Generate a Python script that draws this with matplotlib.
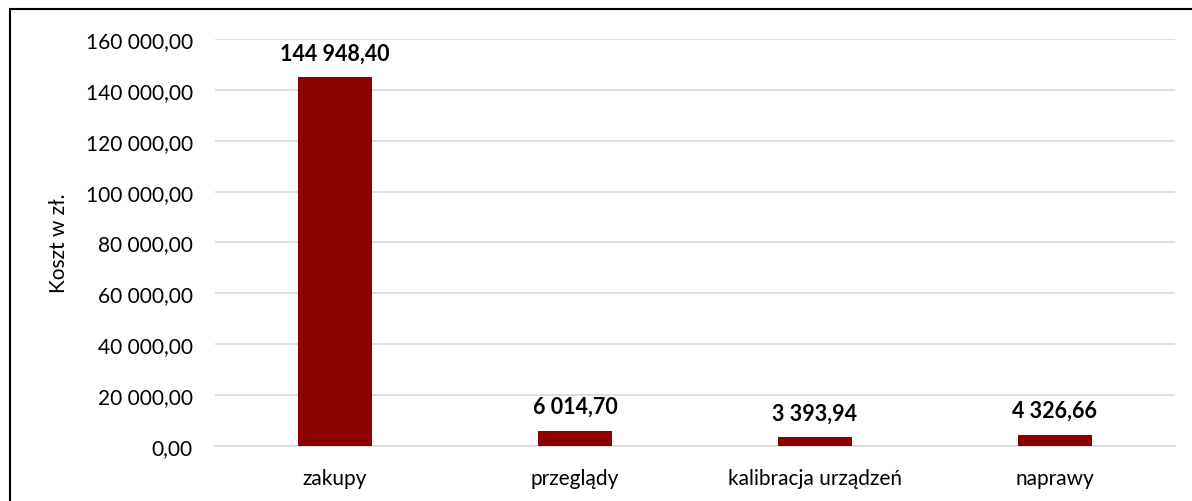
import matplotlib.pyplot as plt
from matplotlib.patches import Rectangle
from matplotlib.ticker import FuncFormatter

# Data
categories = ['zakupy', 'przeglądy', 'kalibracja urządzeń', 'naprawy']
costs = [144948.40, 6014.70, 3393.94, 4326.66]


def pl_fmt(v, pos=None):
    s = f"{v:,.2f}"
    return s.replace(',', ' ').replace('.', ',')


plt.rcParams['font.family'] = ['Lato', 'DejaVu Sans']

fig = plt.figure(figsize=(11.92, 5.02), dpi=100)
ax = fig.add_axes([0.1804, 0.1096, 0.8053, 0.8107])

x = range(len(categories))
ax.bar(x, costs, width=0.31, color='#8B0000', zorder=3)

for i, v in zip(x, costs):
    ax.annotate(pl_fmt(v), (i, v), xytext=(0, 10), textcoords='offset points',
                ha='center', va='bottom', fontsize=15.5, fontweight='bold')

ax.set_xlim(-0.5, len(categories) - 0.5)
ax.set_ylim(0, 160000)
ax.set_yticks(range(0, 160001, 20000))
ax.yaxis.set_major_formatter(FuncFormatter(pl_fmt))
ax.set_xticks(list(x))
ax.set_xticklabels(categories)
ax.tick_params(axis='both', length=0, labelsize=15)
ax.tick_params(axis='x', pad=16)
ax.tick_params(axis='y', pad=16)
ax.grid(axis='y', color='#d9d9d9', linewidth=1.2, zorder=0)
for sp in ['top', 'right', 'left']:
    ax.spines[sp].set_visible(False)
ax.spines['bottom'].set_color('#d9d9d9')
ax.spines['bottom'].set_linewidth(1.2)
ax.set_ylabel('Koszt w zł.', fontsize=15, labelpad=12)

# outer border (bottom and right edges fall outside the image)
fig.patches.append(Rectangle((0.008, -0.05), 1.05, 1.03, transform=fig.transFigure,
                             fill=False, edgecolor='black', linewidth=1.5))

fig.savefig('out.png', dpi=100)
